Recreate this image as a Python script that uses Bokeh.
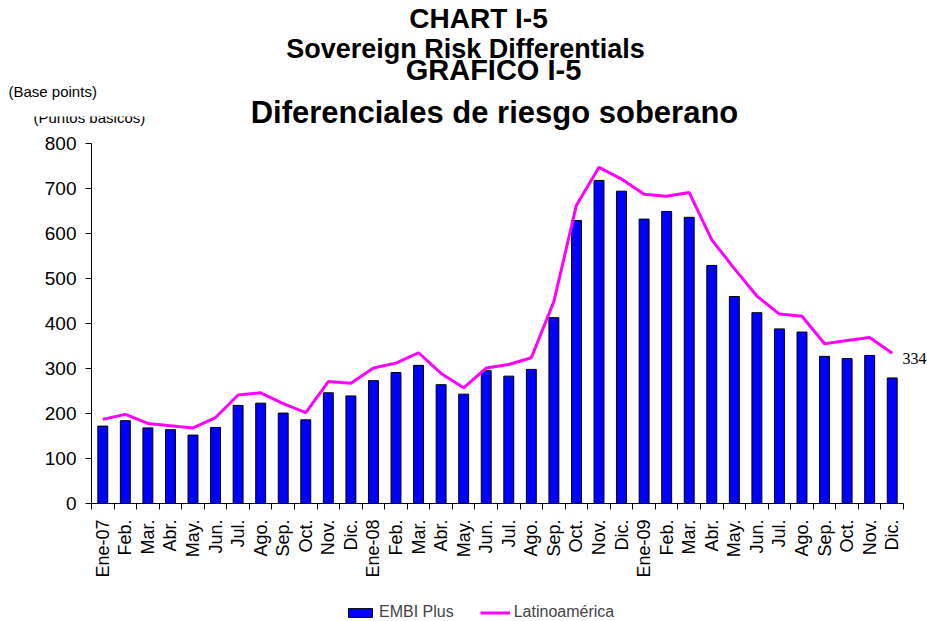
import math
from bokeh.plotting import figure
from bokeh.models import (Range1d, FixedTicker, Label, Legend, LegendItem,
                          ColumnDataSource)
from bokeh.embed import file_html
from bokeh.resources import INLINE

# ---- data ----
months = ["Ene-07", "Feb.", "Mar.", "Abr.", "May.", "Jun.", "Jul.", "Ago.", "Sep.", "Oct.", "Nov.", "Dic.",
          "Ene-08", "Feb.", "Mar.", "Abr.", "May.", "Jun.", "Jul.", "Ago.", "Sep.", "Oct.", "Nov.", "Dic.",
          "Ene-09", "Feb.", "Mar.", "Abr.", "May.", "Jun.", "Jul.", "Ago.", "Sep.", "Oct.", "Nov.", "Dic."]
embi_plus = [172, 184, 168, 164, 152, 169, 218, 223, 201, 186, 246, 239,
             273, 291, 307, 264, 243, 295, 283, 298, 413, 629, 718, 694,
             632, 649, 636, 529, 460, 424, 388, 381, 327, 322, 329, 279]
latinoamerica = [187, 198, 178, 173, 168, 191, 241, 246, 222, 202, 271, 267,
                 301, 312, 335, 289, 257, 301, 309, 324, 449, 663, 747, 721,
                 687, 683, 691, 586, 522, 461, 421, 416, 355, 362, 369, 334]
y_ticks = [0, 100, 200, 300, 400, 500, 600, 700, 800]
y_max = 800
last_label = "334"

n = len(months)
centers = [i + 0.5 for i in range(n)]
bounds = [i for i in range(n + 1)]

FONT = "Liberation Sans"
W, H = 927, 621
# plot area (axes box) inside the canvas, in canvas pixels
AX_L, AX_R, AX_T, AX_B = 91, 903, 143, 503
PX_X = (AX_R - AX_L) / n
PX_Y = (AX_B - AX_T) / y_max

x0 = -AX_L / PX_X
x1 = n + (W - AX_R) / PX_X
y0 = -(H - AX_B) / PX_Y
y1 = y_max + AX_T / PX_Y

p = figure(width=W, height=H, output_backend="svg", toolbar_location=None,
           x_range=Range1d(x0, x1), y_range=Range1d(y0, y1), title=None,
           min_border=0)
p.outline_line_color = None
p.grid.visible = False
p.background_fill_color = "white"
p.border_fill_color = "white"

src = ColumnDataSource(dict(x=centers, embi=embi_plus, latam=latinoamerica))
bars = p.vbar(x="x", top="embi", width=0.44, source=src, fill_color="#0000FF",
              line_color="black", line_width=1)
line = p.line(x="x", y="latam", source=src, line_color="#FF00FF", line_width=3)

# x axis
xa = p.xaxis[0]
xa.fixed_location = 0
xa.bounds = (0, n)
xa.ticker = FixedTicker(ticks=centers, minor_ticks=bounds)
xa.major_label_overrides = {c: m for c, m in zip(centers, months)}
xa.major_label_orientation = math.pi / 2
xa.major_tick_line_color = None
xa.major_tick_in = 0
xa.major_tick_out = 6
xa.minor_tick_in = 0
xa.minor_tick_out = 6
xa.minor_tick_line_color = "black"
xa.major_label_standoff = 10
xa.major_label_text_font = FONT
xa.major_label_text_font_size = "18px"
xa.major_label_text_color = "black"
xa.axis_line_color = "black"

# y axis
ya = p.yaxis[0]
ya.fixed_location = 0
ya.bounds = (0, y_max)
ya.ticker = FixedTicker(ticks=y_ticks)
ya.major_tick_in = 0
ya.major_tick_out = 6
ya.minor_tick_line_color = None
ya.major_label_standoff = 9
ya.major_label_text_font = FONT
ya.major_label_text_font_size = "19px"
ya.major_label_text_color = "black"
ya.axis_line_color = "black"

# canvas pixel -> data coordinates
def dx(px):
    return (px - AX_L) / PX_X
def dy(py):
    return (AX_B - py) / PX_Y

def lab(text, px, py, size, bold=True, align="center", font=FONT, **kw):
    l = Label(x=dx(px), y=dy(py), text=text, text_font=font, text_font_size=size,
              text_font_style="bold" if bold else "normal", text_align=align,
              text_baseline="alphabetic", text_color="black", **kw)
    p.add_layout(l)
    return l

lab("Diferenciales de riesgo soberano", 494, 112, "31px")
lab("GRAFICO I-5", 493, 69, "29px")
lab("Sovereign Risk Differentials", 465, 48, "27px")
lab("CHART I-5", 478, 18, "28px")

lab("(Puntos básicos)", 33, 117, "15px", bold=False, align="left")
lab("(Base points)", 8, 91, "15px", bold=False, align="left")

# white strip hiding the upper half of the Spanish unit label, as in the original
p.quad(left=[dx(28)], right=[dx(165)], top=[dy(103)], bottom=[dy(116)],
       fill_color="white", line_color=None, level="overlay")

lab(last_label, 902, 358, "16px", bold=False, align="left", font="Liberation Serif")

legend = Legend(items=[LegendItem(label="EMBI Plus", renderers=[bars]),
                       LegendItem(label="Latinoamérica", renderers=[line])],
                orientation="horizontal", location=(345, 0),
                glyph_width=30, glyph_height=11, label_standoff=4, spacing=26,
                padding=0, margin=0, border_line_color=None, background_fill_alpha=0,
                label_text_font=FONT, label_text_font_size="16px", label_height=11)
p.add_layout(legend)

open("out.html", "w").write(file_html(p, INLINE))
